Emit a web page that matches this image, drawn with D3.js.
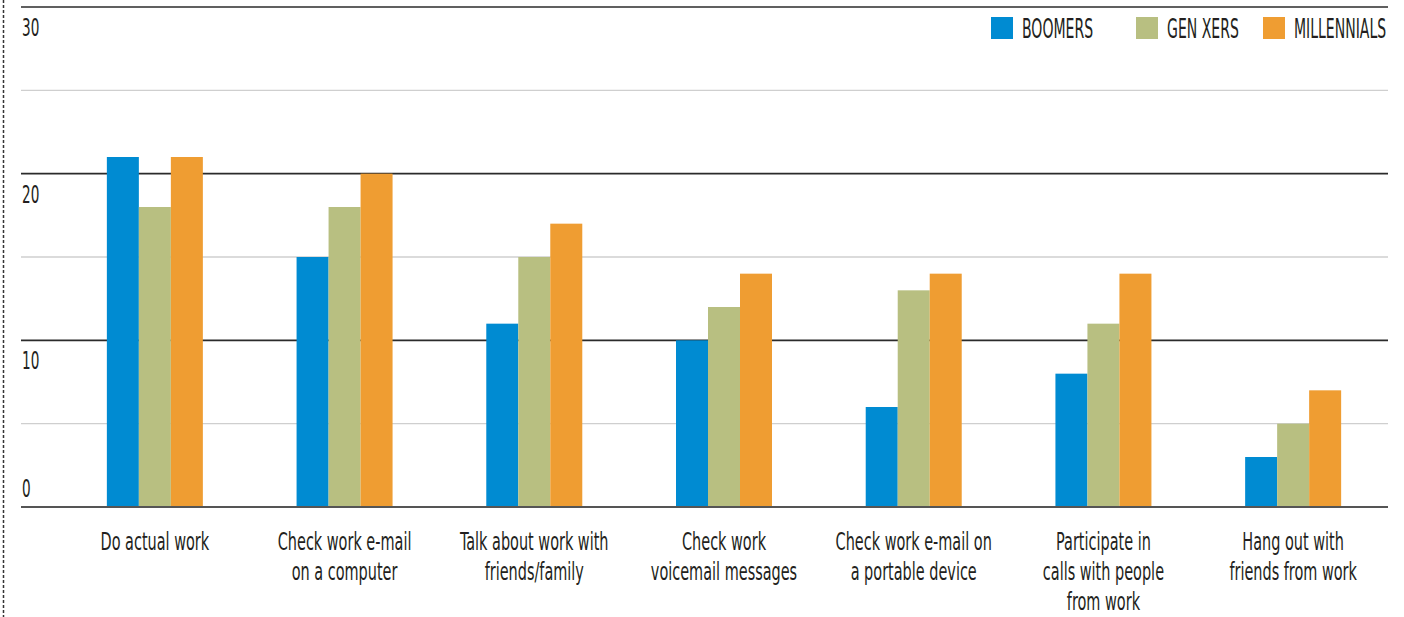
<!DOCTYPE html>
<html><head><meta charset="utf-8">
<script src="https://cdn.jsdelivr.net/npm/d3@7"></script>
<style>
html,body{margin:0;padding:0;background:#fff;}
text{font-family:"DejaVu Sans Condensed","DejaVu Sans",sans-serif;font-stretch:condensed;fill:#231f20;}
</style></head>
<body><svg id="c" width="1404" height="617"></svg>
<script>
const categories = [
  ["Do actual work"],
  ["Check work e-mail","on a computer"],
  ["Talk about work with","friends/family"],
  ["Check work","voicemail messages"],
  ["Check work e-mail on","a portable device"],
  ["Participate in","calls with people","from work"],
  ["Hang out with","friends from work"]
];
const seriesNames = ["BOOMERS","GEN XERS","MILLENNIALS"];
const boomers     = [21, 15, 11, 10, 6, 8, 3];
const genXers     = [18, 18, 15, 12, 13, 11, 5];
const millennials = [21, 20, 17, 14, 14, 14, 7];
const yTicks = [0, 10, 20, 30];
const gridValues = [5, 10, 15, 20, 25, 30];
const colors = ["#008bd2", "#b8bf81", "#ef9d32"];

const series = [boomers, genXers, millennials];
const svg = d3.select("#c");

const y = d3.scaleLinear().domain([0, 30]).range([507, 7]);
const x = d3.scaleBand().domain(d3.range(categories.length)).range([60, 1388]).padding(0);
const groupW = 96;
const xs = d3.scaleBand().domain(d3.range(3)).range([0, groupW]).padding(0);

// left dashed border
svg.append("line").attr("x1", 3.5).attr("x2", 3.5).attr("y1", 0).attr("y2", 617)
  .attr("stroke", "#333").attr("stroke-width", 1.5).attr("stroke-dasharray", "3,2");

// gridlines
svg.append("g").selectAll("line").data(gridValues).join("line")
  .attr("x1", 21).attr("x2", 1388)
  .attr("y1", d => y(d)).attr("y2", d => y(d))
  .attr("stroke", d => d % 10 === 0 ? "#2b2b2b" : "#cfcfcf")
  .attr("stroke-width", d => d % 10 === 0 ? 1.6 : 1.4);

// bars
const g = svg.append("g");
categories.forEach((c, i) => {
  const x0 = x(i) + (x.bandwidth() - groupW) / 2;
  series.forEach((s, k) => {
    g.append("rect")
      .attr("x", x0 + xs(k)).attr("width", xs.bandwidth())
      .attr("y", y(s[i])).attr("height", y(0) - y(s[i]))
      .attr("fill", colors[k]);
  });
});

// zero line
svg.append("line").attr("x1", 21).attr("x2", 1388).attr("y1", y(0)).attr("y2", y(0))
  .attr("stroke", "#555").attr("stroke-width", 2);

// y labels
svg.append("g").selectAll("g").data(yTicks).join("g")
  .attr("transform", d => `translate(22,${d === 0 ? y(0) - 10 : y(d) + 29}) scale(0.63,1)`)
  .append("text").attr("font-size", 24).text(d => d);

// category labels
categories.forEach((lines, i) => {
  const cx = x(i) + x.bandwidth() / 2;
  lines.forEach((t, j) => {
    svg.append("g").attr("transform", `translate(${cx},${550 + j * 30}) scale(0.67,1)`)
      .append("text").attr("text-anchor", "middle").attr("font-size", 24).text(t);
  });
});

// legend
const legX = [991, 1136, 1263];
seriesNames.forEach((n, k) => {
  svg.append("rect").attr("x", legX[k]).attr("y", 17).attr("width", 22).attr("height", 22).attr("fill", colors[k]);
  svg.append("g").attr("transform", `translate(${legX[k] + 31},37.5) scale(0.6,1)`)
    .append("text").attr("font-size", 26).text(n);
});
</script></body></html>
